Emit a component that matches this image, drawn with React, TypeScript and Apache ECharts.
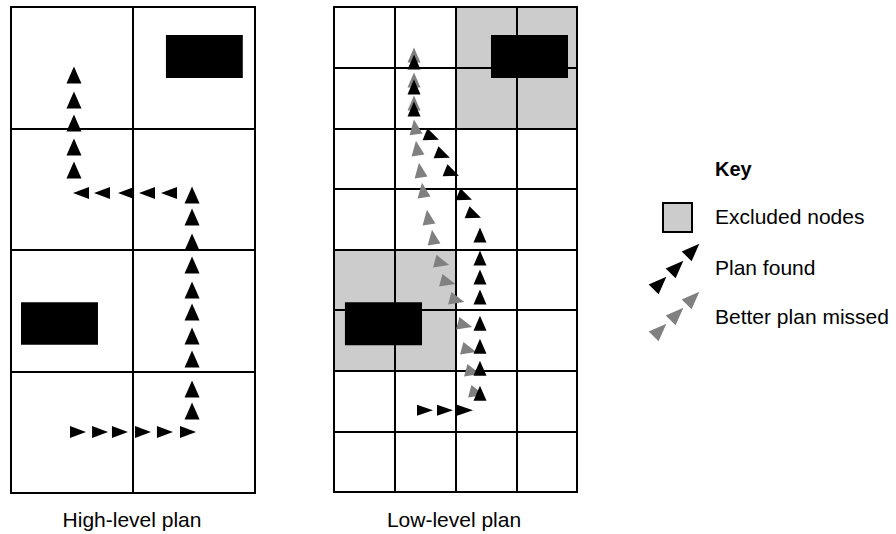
import React, { useEffect, useRef } from "react";
import * as echarts from "echarts";

// ---- data (grid units; high-level grid is 2x4 cells, low-level grid is 4x8 cells, y counted downward) ----
const highObstacles = [
  [1.27, 0.23, 1.9, 0.584],
  [0.082, 2.43, 0.713, 2.78],
];
const lowObstacles = [
  [2.584, 0.462, 3.852, 1.17],
  [0.18, 4.87, 1.449, 5.58],
];
const excludedCells = [
  [2, 0, 4, 2],
  [0, 4, 2, 6],
];

// High-level plan (triangles)
const highRight = [[0.549, 3.498], [0.73, 3.498], [0.893, 3.498], [1.082, 3.498], [1.262, 3.498], [1.451, 3.498]];
const highUpB = [[1.484, 1.547], [1.484, 1.728], [1.484, 1.934], [1.484, 2.123], [1.484, 2.329], [1.484, 2.51], [1.484, 2.708], [1.484, 2.897], [1.484, 3.144], [1.484, 3.325]];
const highLeft = [[0.574, 1.531], [0.746, 1.531], [0.943, 1.531], [1.115, 1.531], [1.295, 1.531]];
const highUpA = [[0.516, 0.56], [0.516, 0.765], [0.516, 0.955], [0.516, 1.152], [0.516, 1.342]];

// Low-level plan: better plan missed (gray)
const missedUpper = [[1.317, 0.792], [1.317, 1.205], [1.317, 1.584]];
const missedTilted = [[1.333, 1.98], [1.366, 2.327], [1.416, 2.69], [1.465, 3.02], [1.547, 3.465], [1.63, 3.795]];
const missedLower = [[1.778, 4.224], [1.877, 4.538], [2.025, 4.835], [2.156, 5.248], [2.222, 5.66], [2.288, 6.023], [2.354, 6.37]];

// Low-level plan: plan found (black)
const foundRight = [[1.498, 6.65], [1.827, 6.65], [2.156, 6.65]];
const foundUp = [[2.403, 3.762], [2.403, 4.142], [2.403, 4.455], [2.403, 4.785], [2.403, 5.215], [2.403, 5.594], [2.403, 5.957], [2.403, 6.37]];
const foundDiag = [[1.613, 2.145], [1.794, 2.442], [1.942, 2.739], [2.156, 3.135], [2.305, 3.432]];
const foundUpper = [[1.317, 0.908], [1.317, 1.32], [1.317, 1.683]];

const panelLabels = ["High-level plan", "Low-level plan"];
const keyTitle = "Key";
const keyLabels = ["Excluded nodes", "Plan found", "Better plan missed"];

const FONT = "'Liberation Sans', Arial, Helvetica, sans-serif";
const GRAY = "#808080";
const CELL_GRAY = "#cccccc";

// direction angle in degrees: 0 = right, 90 = up, 180 = left
function triPoints(cx: number, cy: number, len: number, base: number, angleDeg: number) {
  const a = (angleDeg * Math.PI) / 180;
  const dx = Math.cos(a), dy = -Math.sin(a);
  const nx = -dy, ny = dx;
  return [
    [cx + (dx * len) / 2, cy + (dy * len) / 2],
    [cx - (dx * len) / 2 + (nx * base) / 2, cy - (dy * len) / 2 + (ny * base) / 2],
    [cx - (dx * len) / 2 - (nx * base) / 2, cy - (dy * len) / 2 - (ny * base) / 2],
  ];
}

function rectSeries(data: number[][], idx: number, color: string, z: number) {
  return {
    type: "custom",
    xAxisIndex: idx,
    yAxisIndex: idx,
    silent: true,
    z,
    encode: { x: [0, 2], y: [1, 3] },
    data,
    renderItem: (_p: any, api: any) => {
      const p1 = api.coord([api.value(0), api.value(1)]);
      const p2 = api.coord([api.value(2), api.value(3)]);
      return {
        type: "rect",
        shape: {
          x: Math.min(p1[0], p2[0]),
          y: Math.min(p1[1], p2[1]),
          width: Math.abs(p2[0] - p1[0]),
          height: Math.abs(p2[1] - p1[1]),
        },
        style: { fill: color },
      };
    },
  };
}

function triSeries(data: number[][], idx: number, dir: number, len: number, base: number, color: string, z: number) {
  return {
    type: "custom",
    xAxisIndex: idx,
    yAxisIndex: idx,
    silent: true,
    z,
    encode: { x: 0, y: 1 },
    data,
    renderItem: (_p: any, api: any) => {
      const c = api.coord([api.value(0), api.value(1)]);
      return {
        type: "polygon",
        shape: { points: triPoints(c[0], c[1], len, base, dir) },
        style: { fill: color },
      };
    },
  };
}

function axisPair(max: number) {
  return {
    type: "value",
    min: 0,
    max,
    interval: 1,
    axisLine: { show: false },
    axisTick: { show: false },
    axisLabel: { show: false },
    splitLine: { show: true, lineStyle: { color: "#000", width: 2 } },
  };
}

export default function App() {
  const ref = useRef<HTMLDivElement>(null);
  useEffect(() => {
    if (!ref.current) return;
    const chart = echarts.init(ref.current, undefined, { renderer: "svg" });
    const legendTris: any[] = [];
    const blackCenters = [[660, 283], [677, 267], [693, 250]];
    const grayCenters = [[660, 330], [677, 314], [693, 298]];
    blackCenters.forEach((c) =>
      legendTris.push({ type: "polygon", shape: { points: triPoints(c[0], c[1], 18, 14, 45) }, style: { fill: "#000" } })
    );
    grayCenters.forEach((c) =>
      legendTris.push({ type: "polygon", shape: { points: triPoints(c[0], c[1], 18, 14, 45) }, style: { fill: GRAY } })
    );
    const text = (t: string, x: number, y: number, align: string, weight = "normal", size = 21) => ({
      type: "text",
      x,
      y,
      style: {
        text: t,
        fill: "#000",
        fontSize: size,
        fontFamily: FONT,
        fontWeight: weight,
        textAlign: align,
        align,
        textVerticalAlign: "middle",
        verticalAlign: "middle",
      },
    });
    chart.setOption({
      animation: false,
      backgroundColor: "#fff",
      grid: [
        { left: 11, top: 7, width: 244, height: 486, show: true, borderColor: "#000", borderWidth: 2, backgroundColor: "transparent" },
        { left: 334, top: 7, width: 243, height: 485, show: true, borderColor: "#000", borderWidth: 2, backgroundColor: "transparent" },
      ],
      xAxis: [
        { ...axisPair(2), gridIndex: 0 },
        { ...axisPair(4), gridIndex: 1 },
      ],
      yAxis: [
        { ...axisPair(4), gridIndex: 0, inverse: true },
        { ...axisPair(8), gridIndex: 1, inverse: true },
      ],
      series: [
        rectSeries(excludedCells, 1, CELL_GRAY, -1),
        rectSeries(highObstacles, 0, "#000", 3),
        rectSeries(lowObstacles, 1, "#000", 3),
        triSeries(highUpA, 0, 90, 17, 15, "#000", 5),
        triSeries(highLeft, 0, 180, 16, 12, "#000", 5),
        triSeries(highUpB, 0, 90, 17, 15, "#000", 5),
        triSeries(highRight, 0, 0, 16, 12, "#000", 5),
        triSeries(missedUpper, 1, 90, 15, 13, GRAY, 4),
        triSeries(missedTilted, 1, 98, 15, 13, GRAY, 4),
        triSeries(missedLower, 1, -15, 15, 13, GRAY, 4),
        triSeries(foundRight, 1, 0, 16, 11, "#000", 5),
        triSeries(foundUp, 1, 90, 15, 13, "#000", 5),
        triSeries(foundDiag, 1, -22, 15, 13, "#000", 5),
        triSeries(foundUpper, 1, 90, 15, 13, "#000", 5),
      ],
      graphic: [
        text(panelLabels[0], 132, 519, "center"),
        text(panelLabels[1], 454, 519, "center"),
        text(keyTitle, 715, 169, "left", "bold", 20),
        text(keyLabels[0], 715, 216, "left"),
        text(keyLabels[1], 715, 267, "left"),
        text(keyLabels[2], 715, 316, "left"),
        {
          type: "rect",
          shape: { x: 663, y: 203, width: 29, height: 29 },
          style: { fill: CELL_GRAY, stroke: "#000", lineWidth: 2 },
        },
        ...legendTris,
      ],
    });
    return () => chart.dispose();
  }, []);
  return <div ref={ref} style={{ position: "absolute", left: 0, top: 0, width: 896, height: 534 }} />;
}
